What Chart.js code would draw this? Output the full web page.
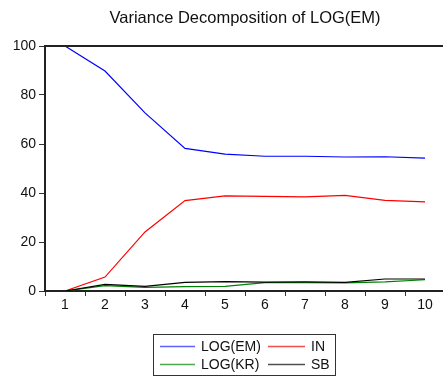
<!DOCTYPE html>
<html>
<head>
<meta charset="utf-8">
<script src="https://cdn.jsdelivr.net/npm/chart.js@4.4.1/dist/chart.umd.min.js"></script>
<style>
    html, body { margin: 0; padding: 0; background: #fff; overflow: hidden; }
    canvas { display: block; }
</style>
</head>
<body>
<canvas id="vdChart" width="446" height="378"></canvas>
<script>
const periods = ['1', '2', '3', '4', '5', '6', '7', '8', '9', '10'];
const logEM = [100, 89.8, 72.7, 58.2, 55.9, 55.0, 55.0, 54.7, 54.8, 54.2];
const inVals = [0, 5.7, 24.1, 36.9, 38.8, 38.6, 38.4, 39.0, 37.0, 36.4];
const logKR = [0, 2.2, 1.5, 1.8, 1.9, 3.4, 3.4, 3.3, 3.7, 4.6];
const sbVals = [0, 2.7, 1.9, 3.5, 3.8, 3.6, 3.7, 3.5, 4.9, 4.9];
const yTicks = [0, 20, 40, 60, 80, 100];

const fontFam = 'Arial, "Liberation Sans", sans-serif';

// title, top frame line and boxed two-column legend
const extras = {
    id: 'extras',
    afterDraw: function (chart) {
        const ctx = chart.ctx;
        const area = chart.chartArea;
        ctx.save();

        ctx.strokeStyle = '#222';
        ctx.lineWidth = 2;
        ctx.beginPath();
        ctx.moveTo(area.left - 1, area.top);
        ctx.lineTo(area.right + 1, area.top);
        ctx.stroke();

        ctx.fillStyle = '#111';
        ctx.font = '16.5px ' + fontFam;
        ctx.textAlign = 'center';
        ctx.textBaseline = 'middle';
        ctx.fillText('Variance Decomposition of LOG(EM)', 245, 18);

        ctx.strokeStyle = '#333';
        ctx.lineWidth = 1;
        ctx.strokeRect(153.5, 334.5, 182, 41);

        const items = [
            { ds: 0, x: 160, y: 346.5, color: '#6060ff' },
            { ds: 1, x: 268, y: 346.5, color: '#f05050' },
            { ds: 2, x: 160, y: 364.5, color: '#50a850' },
            { ds: 3, x: 268, y: 364.5, color: '#505050' }
        ];
        ctx.font = '14px ' + fontFam;
        ctx.textAlign = 'left';
        items.forEach(function (it) {
            const w = it.x === 160 ? 35 : 37;
            ctx.strokeStyle = it.color;
            ctx.lineWidth = 1.5;
            ctx.beginPath();
            ctx.moveTo(it.x, it.y);
            ctx.lineTo(it.x + w, it.y);
            ctx.stroke();
            ctx.fillStyle = '#111';
            ctx.fillText(chart.data.datasets[it.ds].label, it.x + w + 6, it.y + 1);
        });
        ctx.restore();
    }
};

const ctx = document.getElementById('vdChart').getContext('2d');
const vdChart = new Chart(ctx, {
    type: 'line',
    data: {
        labels: periods,
        datasets: [
            { label: 'LOG(EM)', data: logEM, borderColor: '#0000ff', order: 3 },
            { label: 'IN', data: inVals, borderColor: '#ff0000', order: 2 },
            { label: 'LOG(KR)', data: logKR, borderColor: '#008000', order: 1 },
            { label: 'SB', data: sbVals, borderColor: '#000000', order: 0 }
        ]
    },
    options: {
        responsive: false,
        animation: false,
        devicePixelRatio: 1,
        layout: {
            padding: { top: 46, left: 0, right: 1, bottom: 67 }
        },
        elements: {
            point: { radius: 0 },
            line: { borderWidth: 1.2, tension: 0, fill: false }
        },
        scales: {
            x: {
                offset: true,
                afterFit: function (scale) { scale.height = 20; },
                grid: {
                    offset: true,
                    drawOnChartArea: false,
                    drawTicks: true,
                    tickLength: 5,
                    color: '#333'
                },
                border: { color: '#222', width: 2 },
                ticks: {
                    color: '#111',
                    padding: 1,
                    maxRotation: 0,
                    font: { family: fontFam, size: 14 }
                }
            },
            y: {
                min: 0,
                max: 100,
                afterFit: function (scale) { scale.width = 45; },
                afterBuildTicks: function (scale) {
                    scale.ticks = yTicks.map(function (v) { return { value: v }; });
                },
                grid: {
                    drawOnChartArea: false,
                    drawTicks: true,
                    tickLength: 6,
                    color: '#333'
                },
                border: { color: '#222', width: 2 },
                ticks: {
                    color: '#111',
                    padding: 3,
                    font: { family: fontFam, size: 14 }
                }
            }
        },
        plugins: {
            legend: { display: false },
            title: { display: false },
            tooltip: { enabled: false }
        }
    },
    plugins: [extras]
});
</script>
</body>
</html>
